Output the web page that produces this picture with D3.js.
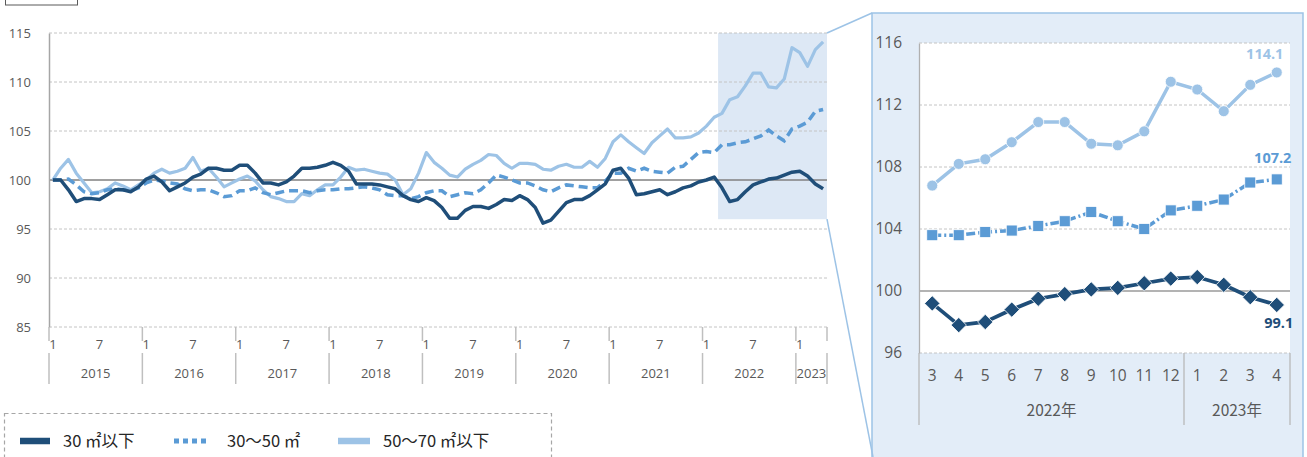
<!DOCTYPE html>
<html><head><meta charset="utf-8">
<script src="https://cdn.jsdelivr.net/npm/d3@7"></script>
<style>
body{margin:0;background:#fff;}
svg{display:block;font-family:"Noto Sans CJK JP","Noto Sans",sans-serif;}
</style></head>
<body><svg id="c" width="1307" height="457"></svg>
<script>
// ---------- data ----------
const years = ["2015","2016","2017","2018","2019","2020","2021","2022","2023"];
const monthTickLabels = ["1","7"];
const yTicksMain = [85,90,95,100,105,110,115];
const seriesNames = ["30 ㎡以下","30～50 ㎡","50～70 ㎡以下"];

const s30 = [
 100.0,100.0,99.0,97.8,98.1,98.1,98.0,98.5,99.0,99.0,98.8,99.3,
 100.1,100.4,99.8,98.9,99.3,99.7,100.3,100.6,101.2,101.2,101.0,101.0,
 101.5,101.5,100.7,99.7,99.7,99.5,99.8,100.4,101.2,101.2,101.3,101.5,
 101.8,101.5,100.9,99.6,99.6,99.6,99.5,99.3,99.1,98.4,98.0,97.8,
 98.2,97.9,97.2,96.1,96.1,96.9,97.3,97.3,97.1,97.5,98.0,97.9,
 98.4,98.0,97.2,95.6,95.9,96.8,97.7,98.0,98.0,98.4,99.0,99.6,
 101.0,101.2,100.2,98.5,98.6,98.8,99.0,98.5,98.8,99.2,99.4,99.8,
 100.0,100.3,99.2,97.8,98.0,98.8,99.5,99.8,100.1,100.2,100.5,100.8,
 100.9,100.4,99.6,99.1];
const s3050 = [
 100.0,100.0,100.1,99.5,98.8,98.6,98.7,99.0,99.1,99.0,98.9,99.2,
 99.7,100.0,99.9,99.7,99.6,99.1,98.9,99.0,99.0,98.7,98.3,98.4,
 98.9,98.9,99.2,98.7,98.5,98.7,98.9,98.9,98.9,98.7,98.9,99.0,
 99.0,99.1,99.1,99.2,99.3,99.2,99.0,98.5,98.4,98.4,98.1,98.3,
 98.7,98.9,98.9,98.3,98.5,98.7,98.6,99.0,99.7,100.5,100.3,100.0,
 99.7,99.7,99.4,99.0,98.8,99.2,99.5,99.4,99.3,99.2,99.2,99.9,
 100.7,100.7,101.2,100.9,101.2,100.9,100.8,100.7,101.3,101.4,102.1,102.8,
 102.9,102.8,103.6,103.6,103.8,103.9,104.2,104.5,105.1,104.5,104.0,105.2,
 105.5,105.9,107.0,107.2];
const s5070 = [
 100.0,101.2,102.1,100.7,99.7,98.7,98.8,99.1,99.7,99.4,99.0,99.5,
 100.0,100.7,101.1,100.7,100.9,101.2,102.3,100.9,101.2,100.3,99.3,99.7,
 100.1,100.4,99.9,99.0,98.3,98.1,97.8,97.8,98.6,98.4,99.0,99.5,
 99.5,100.3,101.3,101.0,101.1,100.9,100.7,100.6,100.0,98.5,99.1,100.7,
 102.8,101.8,101.2,100.5,100.3,101.1,101.6,102.0,102.6,102.5,101.7,101.2,
 101.7,101.7,101.6,101.1,101.0,101.4,101.6,101.3,101.3,101.9,101.3,102.2,
 103.9,104.6,103.9,103.3,102.7,103.8,104.5,105.2,104.3,104.3,104.4,104.8,
 105.5,106.4,106.8,108.2,108.5,109.6,110.9,110.9,109.5,109.4,110.3,113.5,
 113.0,111.6,113.3,114.1];

// inset (2022/3 - 2023/4)
const insetMonths = ["3","4","5","6","7","8","9","10","11","12","1","2","3","4"];
const insetYears = ["2022年","2023年"];
const insetYearCounts = [10,4];
const inset30 = [99.2,97.8,98.0,98.8,99.5,99.8,100.1,100.2,100.5,100.8,100.9,100.4,99.6,99.1];
const inset3050 = [103.6,103.6,103.8,103.9,104.2,104.5,105.1,104.5,104.0,105.2,105.5,105.9,107.0,107.2];
const inset5070 = [106.8,108.2,108.5,109.6,110.9,110.9,109.5,109.4,110.3,113.5,113.0,111.6,113.3,114.1];
const yTicksInset = [96,100,104,108,112,116];
const insetStartIndex = 86;

// ---------- styles ----------
const C_DARK = "#1f4e79", C_MID = "#5b9bd5", C_LIGHT = "#9dc3e6";
const AXIS_TXT = "#595959";

const svg = d3.select("#c");

// top-left fragment box
svg.append("rect").attr("x",5.5).attr("y",-6).attr("width",72).attr("height",11)
  .attr("fill","none").attr("stroke","#595959").attr("stroke-width",1);

// ---------- main chart ----------
const mL=49, mR=827, mT=33, mB=327;
const N = s30.length;
const x = d3.scaleBand().domain(d3.range(N)).range([mL,mR]);
const xc = i => x(i) + x.bandwidth()/2;
const y = d3.scaleLinear().domain([85,115]).range([mB,mT]);

// highlight rect
svg.append("rect")
  .attr("x", x(insetStartIndex)).attr("y", y(115))
  .attr("width", mR - x(insetStartIndex)).attr("height", y(96)-y(115))
  .attr("fill","#dde8f5");

// gridlines
const gMain = svg.append("g");
yTicksMain.forEach(t=>{
  gMain.append("line").attr("x1",mL).attr("x2",mR).attr("y1",y(t)).attr("y2",y(t))
    .attr("stroke", t===100 ? "#808080" : "#c4c4c4")
    .attr("stroke-width", t===100 ? 1.5 : 1)
    .attr("stroke-dasharray", t===100 ? null : "3,2");
});
// y axis
const yAx = svg.append("g").attr("transform",`translate(${mL},0)`)
  .call(d3.axisLeft(y).tickValues(yTicksMain).tickSize(0).tickPadding(18));
yAx.select(".domain").attr("stroke","#a6a6a6").attr("stroke-width",1.5);
yAx.selectAll("text").attr("fill",AXIS_TXT).style("font-size","13px").style("font-family","'Open Sans',sans-serif");

// x axis multi-level
const xAxG = svg.append("g");
const monthIdx = d3.range(N).filter(i => [0,6].includes(i%12));
const xAx = xAxG.append("g").attr("transform",`translate(0,${mB+22})`)
  .call(d3.axisBottom(x).tickValues(monthIdx).tickSize(0).tickPadding(0)
    .tickFormat(i => monthTickLabels[(i%12)===0?0:1]));
xAx.select(".domain").remove();
xAx.selectAll("text").attr("fill",AXIS_TXT).style("font-size","13px").attr("dy","0")
  .style("font-family","'Open Sans',sans-serif");
// year separators
const yearStarts = years.map((yr,k)=>k*12);
yearStarts.concat([N]).forEach(i=>{
  const xx = i<N ? x(i) : mR;
  xAxG.append("line").attr("x1",xx).attr("x2",xx).attr("y1",mB).attr("y2",mB+14).attr("stroke","#bfbfbf").attr("stroke-width",1.5);
  xAxG.append("line").attr("x1",xx).attr("x2",xx).attr("y1",mB+26).attr("y2",mB+57).attr("stroke","#bfbfbf").attr("stroke-width",1.5);
});
years.forEach((yr,k)=>{
  const a = x(k*12), b = Math.min(k*12+12,N) < N ? x(k*12+12) : mR;
  xAxG.append("text").attr("x",(a+b)/2).attr("y",mB+51).attr("text-anchor","middle")
    .attr("fill",AXIS_TXT).style("font-size","13px").style("font-family","'Open Sans',sans-serif").text(yr);
});

// lines
const line = d3.line().x((d,i)=>xc(i)).y(d=>y(d)).curve(d3.curveLinear);
svg.append("path").datum(s5070).attr("d",line).attr("fill","none").attr("stroke",C_LIGHT).attr("stroke-width",3.2).attr("stroke-linejoin","round");
svg.append("path").datum(s3050).attr("d",line).attr("fill","none").attr("stroke",C_MID).attr("stroke-width",3.5).attr("stroke-dasharray","9,5");
svg.append("path").datum(s30).attr("d",line).attr("fill","none").attr("stroke",C_DARK).attr("stroke-width",3.5).attr("stroke-linejoin","round");

// ---------- inset ----------
const bx=872, by=13, bw=431, bh=460;
svg.append("rect").attr("x",bx).attr("y",by).attr("width",bw).attr("height",bh)
  .attr("fill","#e3edf8").attr("stroke",C_LIGHT).attr("stroke-width",1.5);
// connectors
svg.append("line").attr("x1",mR).attr("y1",y(115)).attr("x2",bx).attr("y2",by).attr("stroke",C_LIGHT).attr("stroke-width",1.5);
svg.append("line").attr("x1",mR).attr("y1",y(96)).attr("x2",bx+1).attr("y2",457).attr("stroke",C_LIGHT).attr("stroke-width",1.5);

const iL=919, iR=1290, iT=43, iB=353;
const xi = d3.scaleBand().domain(d3.range(insetMonths.length)).range([iL,iR]);
const xic = i => xi(i)+xi.bandwidth()/2;
const yi = d3.scaleLinear().domain([96,116]).range([iB,iT]);
svg.append("rect").attr("x",iL).attr("y",iT).attr("width",iR-iL).attr("height",iB-iT).attr("fill","#fff");
yTicksInset.forEach(t=>{
  svg.append("line").attr("x1",iL).attr("x2",iR).attr("y1",yi(t)).attr("y2",yi(t))
    .attr("stroke", t===100 ? "#9a9a9a" : "#c4c4c4")
    .attr("stroke-width", t===100 ? 1.3 : 1)
    .attr("stroke-dasharray", t===100 ? null : "3,2");
});
const yiAx = svg.append("g").attr("transform",`translate(${iL},0)`)
  .call(d3.axisLeft(yi).tickValues(yTicksInset).tickSize(0).tickPadding(17));
yiAx.select(".domain").attr("stroke","#b0b0b0").attr("stroke-width",1.3);
yiAx.selectAll("text").attr("fill",AXIS_TXT).style("font-size","15.5px").style("font-family","'Open Sans',sans-serif");

const xiAx = svg.append("g").attr("transform",`translate(0,${iB+17})`)
  .call(d3.axisBottom(xi).tickSize(0).tickPadding(0).tickFormat(i=>insetMonths[i]));
xiAx.select(".domain").remove();
xiAx.selectAll("text").attr("fill",AXIS_TXT).style("font-size","15.5px").attr("dy","0.71em")
  .style("font-family","'Open Sans',sans-serif");
let acc=0;
const seps=[iL];
insetYears.forEach((yl,k)=>{
  const a = xi(acc), b = (acc+insetYearCounts[k])<insetMonths.length ? xi(acc+insetYearCounts[k]) : iR;
  svg.append("text").attr("x",(a+b)/2).attr("y",iB+63).attr("text-anchor","middle")
    .attr("fill",AXIS_TXT).style("font-size","15.5px").text(yl);
  acc += insetYearCounts[k];
  seps.push(b);
});
seps.forEach(xx=>{
  svg.append("line").attr("x1",xx).attr("x2",xx).attr("y1",iB).attr("y2",iB+72)
    .attr("stroke","#b8b8b8").attr("stroke-width",1.3);
});

const lineI = d3.line().x((d,i)=>xic(i)).y(d=>yi(d));
// light circles
svg.append("path").datum(inset5070).attr("d",lineI).attr("fill","none").attr("stroke",C_LIGHT).attr("stroke-width",3.5);
svg.selectAll(".c5070").data(inset5070).join("circle").attr("cx",(d,i)=>xic(i)).attr("cy",d=>yi(d)).attr("r",5.5)
  .attr("fill",C_LIGHT).attr("stroke","#fff").attr("stroke-width",0.8);
// mid squares
svg.append("path").datum(inset3050).attr("d",lineI).attr("fill","none").attr("stroke",C_MID).attr("stroke-width",3.5).attr("stroke-dasharray","9,3,2,3");
svg.selectAll(".c3050").data(inset3050).join("rect").attr("x",(d,i)=>xic(i)-5.5).attr("y",d=>yi(d)-5.5)
  .attr("width",11).attr("height",11).attr("fill",C_MID).attr("stroke","#fff").attr("stroke-width",0.8);
// dark diamonds
svg.append("path").datum(inset30).attr("d",lineI).attr("fill","none").attr("stroke",C_DARK).attr("stroke-width",3.8);
svg.selectAll(".c30").data(inset30).join("path")
  .attr("d",d3.symbol(d3.symbolDiamond2, 150))
  .attr("transform",(d,i)=>`translate(${xic(i)},${yi(d)})`)
  .attr("fill",C_DARK).attr("stroke","#fff").attr("stroke-width",0.8);

// data labels
const last = insetMonths.length-1;
const lab = (txt,xx,yy,col)=>svg.append("text").attr("x",xx).attr("y",yy).attr("text-anchor","middle")
  .attr("fill",col).style("font-size","14.5px").style("font-weight","bold").style("font-family","'Open Sans',sans-serif").text(txt);
lab(inset5070[last].toFixed(1), xic(last)-12, yi(inset5070[last])-13, C_LIGHT);
lab(inset3050[last].toFixed(1), xic(last)-4, yi(inset3050[last])-16, C_MID);
lab(inset30[last].toFixed(1), xic(last)+2, yi(inset30[last])+23, C_DARK);

// ---------- legend ----------
const lg = svg.append("g");
lg.append("rect").attr("x",4.5).attr("y",413.5).attr("width",547).attr("height",60)
  .attr("fill","#fff").attr("stroke","#a6a6a6").attr("stroke-dasharray","4,3").attr("stroke-width",1.2);
const legItems = [
  {name:seriesNames[0], col:C_DARK, x0:20, x1:50, tx:63, dash:null},
  {name:seriesNames[1], col:C_MID, x0:174, x1:210, tx:227, dash:"5,4"},
  {name:seriesNames[2], col:C_LIGHT, x0:338, x1:370, tx:383, dash:null}
];
legItems.forEach(it=>{
  lg.append("line").attr("x1",it.x0).attr("x2",it.x1).attr("y1",441).attr("y2",441)
    .attr("stroke",it.col).attr("stroke-width",it.dash?5:6.5).attr("stroke-dasharray",it.dash);
  lg.append("text").attr("x",it.tx).attr("y",447).attr("fill","#262626").style("font-size","16.5px").text(it.name);
});
</script></body></html>
